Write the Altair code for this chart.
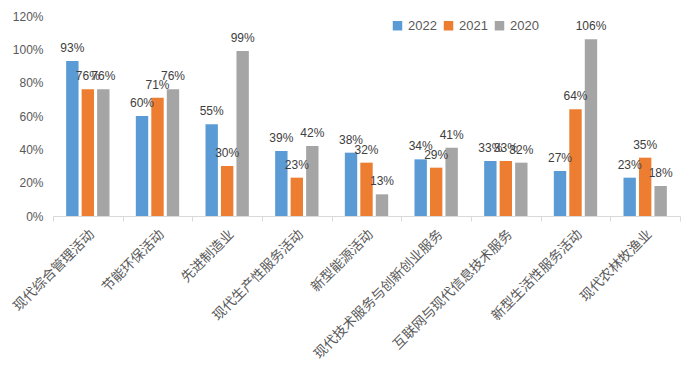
import altair as alt
import pandas as pd

categories = ["现代综合管理活动", "节能环保活动", "先进制造业", "现代生产性服务活动", "新型能源活动",
              "现代技术服务与创新创业服务", "互联网与现代信息技术服务", "新型生活性服务活动", "现代农林牧渔业"]
years = ["2022", "2021", "2020"]
v2022 = [93, 60, 55, 39, 38, 34, 33, 27, 23]
v2021 = [76, 71, 30, 23, 32, 29, 33, 64, 35]
v2020 = [76, 76, 99, 42, 13, 41, 32, 106, 18]
colors = ["#5B9BD5", "#ED7D31", "#A5A5A5"]

rows = []
for y, vals in zip(years, [v2022, v2021, v2020]):
    for c, v in zip(categories, vals):
        rows.append({"cat": c, "year": y, "value": v / 100, "label": f"{v}%"})
df = pd.DataFrame(rows)

x = alt.X("cat:N", sort=categories, title=None,
          scale=alt.Scale(paddingInner=0, paddingOuter=0),
          axis=alt.Axis(labelAngle=-45, labelAlign="right", labelBaseline="middle",
                        labelFont="Noto Sans CJK SC", labelFontSize=13.5, labelColor="#595959",
                        labelPadding=11, labelOffset=4, tickBand="extent", tickSize=5,
                        tickColor="#D9D9D9", domainColor="#D9D9D9", grid=False, labelLimit=300))
xo = alt.XOffset("year:N", sort=years,
                 scale=alt.Scale(paddingInner=0.2, paddingOuter=0.85))
y = alt.Y("value:Q", title=None,
          scale=alt.Scale(domain=[0, 1.2], nice=False),
          axis=alt.Axis(format=".0%", values=[0, 0.2, 0.4, 0.6, 0.8, 1.0, 1.2],
                        tickCount=7, labelOverlap=False, labelFlush=False,
                        domain=False, ticks=False, grid=False, labelPadding=10,
                        labelFont="Liberation Sans", labelFontSize=12, labelColor="#595959"))

base = alt.Chart(df)
bars = base.mark_bar().encode(
    x=x, xOffset=xo, y=y,
    color=alt.Color("year:N", sort=years, scale=alt.Scale(domain=years, range=colors),
                    legend=alt.Legend(title=None, orient="none", legendX=338, legendY=3,
                                      direction="horizontal", symbolType="square",
                                      symbolSize=90, symbolStrokeWidth=0,
                                      labelFont="Liberation Sans", labelFontSize=13,
                                      labelColor="#595959", columnPadding=5))
)
text = base.mark_text(baseline="bottom", dy=-6, font="Liberation Sans", fontSize=12,
                      color="#404040").encode(
    x=x, xOffset=xo, y=y, text="label:N"
)

chart = (bars + text).properties(
    width=627, height=200,
    autosize=alt.AutoSizeParams(type="none"),
    padding={"left": 45, "top": 8, "right": 10, "bottom": 150},
).configure_view(stroke=None)

chart.save("out.html", embed_options={"renderer": "svg", "actions": False})
